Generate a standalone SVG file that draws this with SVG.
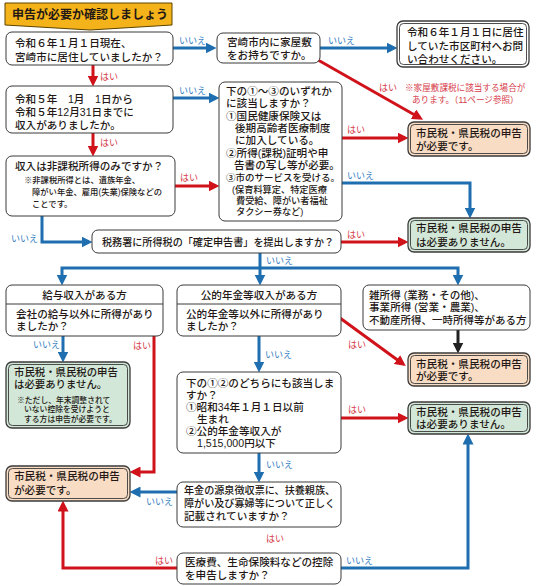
<svg xmlns="http://www.w3.org/2000/svg" width="546" height="586" viewBox="0 0 546 586">
<defs>
<style>
.t{font-family:"Liberation Sans","Noto Sans CJK JP","Noto Sans CJK SC",sans-serif;font-size:10.6px;font-weight:500;fill:#231815}
.s{font-size:8.3px}
.s9{font-size:9.2px}
.n10{font-size:10.1px}
.lb{font-family:"Liberation Sans","Noto Sans CJK JP",sans-serif;font-size:9px;fill:#2f7bbf}
.lr{font-family:"Liberation Sans","Noto Sans CJK JP",sans-serif;font-size:9px;fill:#d63a48}
.nt{font-family:"Liberation Sans","Noto Sans CJK JP",sans-serif;font-size:8.6px;fill:#d63a48}
.box{fill:#fff;stroke:#3a3a3a;stroke-width:1}
.dv{stroke:#3a3a3a;stroke-width:1}
.ob{stroke:#3a3a3a;stroke-width:1.3}
.ib{fill:none;stroke:#3a3a3a;stroke-width:0.9}
.or{fill:#f9dcc4}
.gr{fill:#d2e7d7}
.wh{fill:#fff}
.cb{fill:none;stroke:#1f6eb0;stroke-width:3}
.cr{fill:none;stroke:#d0121b;stroke-width:3}
.ck{fill:none;stroke:#222;stroke-width:3}
</style>
<marker id="ab" markerUnits="userSpaceOnUse" markerWidth="11" markerHeight="11" refX="7.5" refY="5.5" orient="auto-start-reverse"><path d="M0,0 L11,5.5 L0,11 z" fill="#1f6eb0"/></marker>
<marker id="ar" markerUnits="userSpaceOnUse" markerWidth="11" markerHeight="11" refX="7.5" refY="5.5" orient="auto-start-reverse"><path d="M0,0 L11,5.5 L0,11 z" fill="#d0121b"/></marker>
<marker id="ak" markerUnits="userSpaceOnUse" markerWidth="11" markerHeight="11" refX="7.5" refY="5.5" orient="auto-start-reverse"><path d="M0,0 L11,5.5 L0,11 z" fill="#222"/></marker>
</defs>
<rect width="546" height="586" fill="#fff"/>

<g id="title">
<polygon points="5,3 172,3 172,25 90,30 5,25" fill="#f4b31a" stroke="#5c4400" stroke-width="1"/>
<text class="t" x="12" y="19" style="font-size:12px;font-weight:bold">申告が必要か確認しましょう</text>
</g>

<g id="connectors">
<path class="cb" d="M173,48 H213" marker-end="url(#ab)"/>
<path class="cb" d="M320,48 H394" marker-end="url(#ab)"/>
<path class="cb" d="M173,98 H216" marker-end="url(#ab)"/>
<path class="cb" d="M42,216 V242 H89" marker-end="url(#ab)"/>
<path class="cb" d="M342,183 H470 V215" marker-end="url(#ab)"/>
<path class="cb" d="M260,253 V282" marker-end="url(#ab)"/>
<path class="cb" d="M62,282 V268 H458 V282" marker-start="url(#ab)" marker-end="url(#ab)"/>
<path class="cb" d="M63,336 V359" marker-end="url(#ab)"/>
<path class="cb" d="M259,336 V369" marker-end="url(#ab)"/>
<path class="cb" d="M259,453 V479" marker-end="url(#ab)"/>
<path class="cb" d="M177,492 H133" marker-end="url(#ab)"/>
<path class="cb" d="M341,568 H468 V437" marker-end="url(#ab)"/>
<path class="cr" d="M93,65 V83" marker-end="url(#ar)"/>
<path class="cr" d="M93,133 V153" marker-end="url(#ar)"/>
<path class="cr" d="M318,60 L420,118" marker-end="url(#ar)"/>
<path class="cr" d="M342,138 H405" marker-end="url(#ar)"/>
<path class="cr" d="M175,186 H216" marker-end="url(#ar)"/>
<path class="cr" d="M341,242 H405" marker-end="url(#ar)"/>
<path class="cr" d="M154,336 V472 H133" marker-end="url(#ar)"/>
<path class="cr" d="M340,318 L403,364" marker-end="url(#ar)"/>
<path class="cr" d="M341,418 H405" marker-end="url(#ar)"/>
<path class="cr" d="M177,568 H63 V504" marker-end="url(#ar)"/>
<path class="ck" d="M458,330 V350" marker-end="url(#ak)"/>
<text class="lb" x="179" y="44">いいえ</text>
<text class="lb" x="328" y="44">いいえ</text>
<text class="lb" x="179" y="94">いいえ</text>
<text class="lb" x="11" y="242">いいえ</text>
<text class="lb" x="347" y="179">いいえ</text>
<text class="lb" x="266" y="264">いいえ</text>
<text class="lb" x="33" y="348">いいえ</text>
<text class="lb" x="265" y="358">いいえ</text>
<text class="lb" x="266" y="468">いいえ</text>
<text class="lb" x="146" y="505">いいえ</text>
<text class="lb" x="346" y="564">いいえ</text>
<text class="lr" x="100" y="80">はい</text>
<text class="lr" x="100" y="146">はい</text>
<text class="lr" x="379" y="91">はい</text>
<text class="nt" x="405" y="91">※家屋敷課税に該当する場合が</text>
<text class="nt" x="412" y="103">あります。（11ページ参照）</text>
<text class="lr" x="347" y="133">はい</text>
<text class="lr" x="180" y="181">はい</text>
<text class="lr" x="347" y="238">はい</text>
<text class="lr" x="133" y="349">はい</text>
<text class="lr" x="348" y="348">はい</text>
<text class="lr" x="348" y="413">はい</text>
<text class="lr" x="266" y="542">はい</text>
<text class="lr" x="155" y="564">はい</text>
</g>

<g id="q1">
<rect class="box" x="6" y="32" width="167" height="33" rx="6"/>
<text class="t" x="15" y="47">令和６年１月１日現在、</text>
<text class="t" x="15" y="61">宮崎市に居住していましたか？</text>
</g>

<g id="q-house">
<rect class="box" x="217" y="33" width="103" height="30" rx="6"/>
<text class="t" x="227" y="46">宮崎市内に家屋敷</text>
<text class="t" x="227" y="59">をお持ちですか。</text>
</g>

<g id="r-contact">
<rect class="ob wh" x="397" y="21" width="132" height="46" rx="6"/>
<rect class="ib" x="399.5" y="23.5" width="127" height="41" rx="4"/>
<text class="t" x="407" y="36">令和６年１月１日に居住</text>
<text class="t" x="407" y="50">していた市区町村へお問</text>
<text class="t" x="407" y="63">い合わせください。</text>
</g>

<g id="q2">
<rect class="box" x="6" y="86" width="167" height="47" rx="6"/>
<text class="t" x="15" y="103">令和５年　1月　1日から</text>
<text class="t" x="15" y="116">令和５年12月31日までに</text>
<text class="t" x="15" y="129">収入がありましたか。</text>
</g>

<g id="q-cond">
<rect class="box" x="219" y="82" width="123" height="139" rx="6"/>
<text class="t" x="226" y="95">下の①～③のいずれか</text>
<text class="t" x="226" y="107">に該当しますか？</text>
<text class="t" x="226" y="120">①国民健康保険又は</text>
<text class="t" x="235" y="132">後期高齢者医療制度</text>
<text class="t" x="235" y="144">に加入している。</text>
<text class="t" x="226" y="157">②所得(課税)証明や申</text>
<text class="t" x="234" y="169">告書の写し等が必要。</text>
<text class="t" x="226" y="181" style="font-size:9.5px">③市のサービスを受ける。</text>
<text class="t s9" x="232" y="193">(保育料算定、特定医療</text>
<text class="t s9" x="236" y="204">費受給、障がい者福祉</text>
<text class="t s9" x="236" y="215">タクシー券など)</text>
</g>

<g id="r-need1">
<rect class="ob or" x="408" y="122" width="122" height="34" rx="6"/>
<rect class="ib" x="410.5" y="124.5" width="117" height="29" rx="4"/>
<text class="t" x="416" y="137">市民税・県民税の申告</text>
<text class="t" x="416" y="150">が必要です。</text>
</g>

<g id="q3">
<rect class="box" x="6" y="156" width="169" height="60" rx="6"/>
<text class="t" x="15" y="170">収入は非課税所得のみですか？</text>
<text class="t s" x="24" y="183">※非課税所得とは、遺族年金、</text>
<text class="t s" x="32" y="195">障がい年金、雇用(失業)保険などの</text>
<text class="t s" x="32" y="207">ことです。</text>
</g>

<g id="q-tax">
<rect class="box" x="92" y="230" width="249" height="23" rx="6"/>
<text class="t n10" x="102" y="246">税務署に所得税の「確定申告書」を提出しますか？</text>
</g>

<g id="r-none1">
<rect class="ob gr" x="408" y="218" width="122" height="34" rx="6"/>
<rect class="ib" x="410.5" y="220.5" width="117" height="29" rx="4"/>
<text class="t" x="416" y="232">市民税・県民税の申告</text>
<text class="t" x="416" y="246">は必要ありません。</text>
</g>

<g id="q-salary">
<rect class="box" x="6" y="285" width="157" height="51" rx="6"/>
<line class="dv" x1="6" y1="304" x2="163" y2="304"/>
<text class="t" x="84.5" y="299" text-anchor="middle">給与収入がある方</text>
<text class="t" x="16" y="318">会社の給与以外に所得があり</text>
<text class="t" x="16" y="330">ましたか？</text>
</g>

<g id="q-pension">
<rect class="box" x="177" y="285" width="164" height="51" rx="6"/>
<line class="dv" x1="177" y1="304" x2="341" y2="304"/>
<text class="t" x="259" y="299" text-anchor="middle">公的年金等収入がある方</text>
<text class="t" x="186" y="318">公的年金等以外に所得があり</text>
<text class="t" x="186" y="330">ましたか？</text>
</g>

<g id="q-other">
<rect class="box" x="363" y="285" width="167" height="45" rx="6"/>
<text class="t" x="369" y="299">雑所得 (業務・その他)、</text>
<text class="t" x="369" y="311">事業所得 (営業・農業)、</text>
<text class="t" x="369" y="324" style="font-size:10.5px">不動産所得、一時所得等がある方</text>
</g>

<g id="r-none-salary">
<rect class="ob gr" x="6" y="362" width="124" height="66" rx="6"/>
<rect class="ib" x="8.5" y="364.5" width="119" height="61" rx="4"/>
<text class="t" x="14" y="376" style="font-size:10.4px">市民税・県民税の申告</text>
<text class="t" x="14" y="388" style="font-size:10.4px">は必要ありません。</text>
<text class="t" x="17" y="403" style="font-size:7.8px">※ただし、年末調整されて</text>
<text class="t" x="24" y="412" style="font-size:7.8px">いない控除を受けようと</text>
<text class="t" x="24" y="422" style="font-size:7.8px">する方は申告が必要です。</text>
</g>

<g id="r-need2">
<rect class="ob or" x="408" y="353" width="122" height="33" rx="6"/>
<rect class="ib" x="410.5" y="355.5" width="117" height="28" rx="4"/>
<text class="t" x="416" y="368">市民税・県民税の申告</text>
<text class="t" x="416" y="380">が必要です。</text>
</g>

<g id="q-age">
<rect class="box" x="177" y="372" width="164" height="81" rx="6"/>
<text class="t" x="186" y="387">下の①②のどちらにも該当しま</text>
<text class="t" x="186" y="399">すか？</text>
<text class="t" x="186" y="411">①昭和34年１月１日以前</text>
<text class="t" x="197" y="423">生まれ</text>
<text class="t" x="186" y="435">②公的年金等収入が</text>
<text class="t" x="197" y="447">1,515,000円以下</text>
</g>

<g id="r-none2">
<rect class="ob gr" x="408" y="402" width="122" height="32" rx="6"/>
<rect class="ib" x="410.5" y="404.5" width="117" height="27" rx="4"/>
<text class="t" x="416" y="416">市民税・県民税の申告</text>
<text class="t" x="416" y="428">は必要ありません。</text>
</g>

<g id="r-need3">
<rect class="ob or" x="6" y="466" width="124" height="35" rx="6"/>
<rect class="ib" x="8.5" y="468.5" width="119" height="30" rx="4"/>
<text class="t" x="14" y="480">市民税・県民税の申告</text>
<text class="t" x="14" y="494">が必要です。</text>
</g>

<g id="q-slip">
<rect class="box" x="177" y="482" width="164" height="45" rx="6"/>
<text class="t n10" x="184" y="494">年金の源泉徴収票に、扶養親族、</text>
<text class="t n10" x="184" y="507">障がい及び寡婦等について正しく</text>
<text class="t" x="184" y="520">記載されていますか？</text>
</g>

<g id="q-deduct">
<rect class="box" x="177" y="553" width="164" height="31" rx="6"/>
<text class="t" x="185" y="566">医療費、生命保険料などの控除</text>
<text class="t" x="185" y="579">を申告しますか？</text>
</g>
</svg>
